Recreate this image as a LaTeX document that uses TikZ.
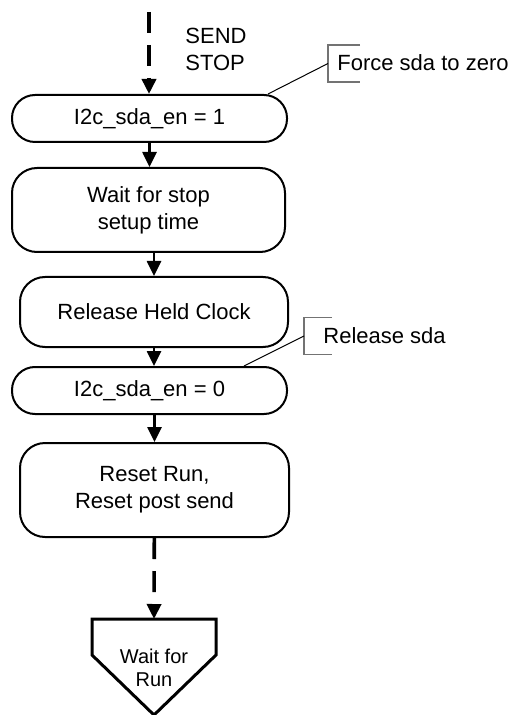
\documentclass[tikz,border=0pt]{standalone}
\usepackage{fontspec}
\setmainfont{Liberation Sans}
\usetikzlibrary{arrows.meta}

\begin{document}
\begin{tikzpicture}[
        x=0.5pt, y=-0.5pt,
        every node/.style={font=\fontsize{11}{13.5}\selectfont},
        box/.style={draw, line width=1pt, rounded corners=12.5pt, align=center, inner sep=0pt},
        pill/.style={box, rounded corners=11.5pt, minimum width=137.5pt, minimum height=23.5pt},
        flow/.style={-{Triangle[length=7.5pt, width=7pt]}, line width=1.3pt},
        dflow/.style={flow, line width=1.8pt, dash pattern=on 10.5pt off 6pt},
        note/.style={draw=black!55, line width=0.6pt},
        leader/.style={draw, line width=0.5pt},
        offpage/.style={draw, line width=1.5pt, line join=miter}
        ]
        \useasboundingbox (0,0) rectangle (513,715);

        % Nodes
        \coordinate (start) at (149,12);
        \node[anchor=west, align=left, inner sep=0pt] (sendstop) at (185,49) {SEND\\STOP};
        \node[pill] (sdaon) at (149.5,118.5) {I2c\_sda\_en = 1};
        \node[box, minimum width=136.5pt, minimum height=42pt] (waitstop) at (148.5,210) {Wait for stop\\setup time};
        \node[box, minimum width=134pt, minimum height=35pt] (release) at (154,312) {Release Held Clock};
        \node[pill] (sdaoff) at (149.5,390.5) {I2c\_sda\_en = 0};
        \node[box, minimum width=134.5pt, minimum height=47pt] (reset) at (154.5,490) {Reset Run,\\Reset post send};
        \node[align=center, inner sep=0pt, font=\fontsize{10}{11.5}\selectfont] (waitrun) at (154,668) {Wait for\\Run};
        \draw[offpage] (waitrun) ++(-62,-49) -- ++(124,0) -- ++(0,36) -- ++(-62,60) -- ++(-62,-60) -- cycle;
        \path (waitrun) ++(0,-49) coordinate (waittop);

        % Notes
        \node[anchor=west, inner sep=0pt] (forcetxt) at (337,62.5) {Force sda to zero};
        \coordinate (forcenote) at (328,63.5);
        \draw[note] (forcenote) ++(32,-18.5) -- ++(-32,0) -- ++(0,37) -- ++(32,0);
        \draw[leader] (forcenote) -- ([xshift=-10pt]sdaon.north east);

        \node[anchor=west, inner sep=0pt] (releasetxt) at (323,335.5) {Release sda};
        \coordinate (releasenote) at (304,336);
        \draw[note] (releasenote) ++(28,-18.5) -- ++(-28,0) -- ++(0,37) -- ++(28,0);
        \draw[leader] (releasenote) -- ([xshift=-22pt]sdaoff.north east);

        % Arrows
        \draw[dflow] (start) -- (start |- sdaon.north);
        \draw[flow] (sdaon) -- (sdaon |- waitstop.north);
        \draw[flow] (release |- waitstop.south) -- (release);
        \draw[flow] (release) -- (release |- sdaoff.north);
        \draw[flow] (reset |- sdaoff.south) -- (reset);
        \draw[dflow] (reset) -- (waittop);
    \end{tikzpicture}
\end{document}
